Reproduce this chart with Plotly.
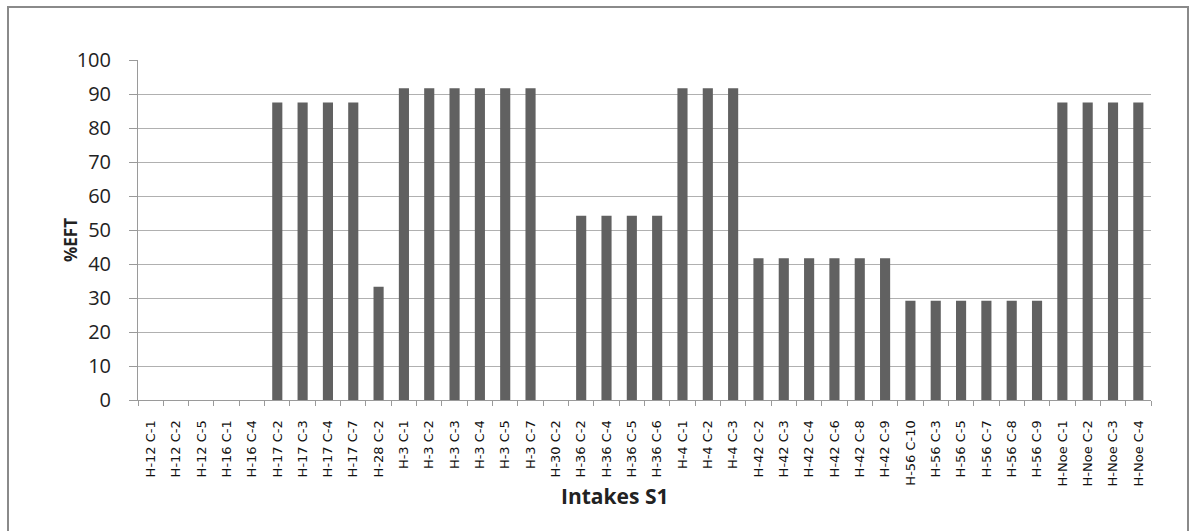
import plotly.graph_objects as go

# Intake identifiers (hydrant / connection) along the x axis
categories = [
    "H-12 C-1", "H-12 C-2", "H-12 C-5", "H-16 C-1", "H-16 C-4",
    "H-17 C-2", "H-17 C-3", "H-17 C-4", "H-17 C-7", "H-28 C-2",
    "H-3 C-1", "H-3 C-2", "H-3 C-3", "H-3 C-4", "H-3 C-5", "H-3 C-7",
    "H-30 C-2", "H-36 C-2", "H-36 C-4", "H-36 C-5", "H-36 C-6",
    "H-4 C-1", "H-4 C-2", "H-4 C-3",
    "H-42 C-2", "H-42 C-3", "H-42 C-4", "H-42 C-6", "H-42 C-8", "H-42 C-9",
    "H-56 C-10", "H-56 C-3", "H-56 C-5", "H-56 C-7", "H-56 C-8", "H-56 C-9",
    "H-Noe C-1", "H-Noe C-2", "H-Noe C-3", "H-Noe C-4",
]

# %EFT per intake
eft_values = [
    0, 0, 0, 0, 0,
    87.5, 87.5, 87.5, 87.5, 33.33,
    91.67, 91.67, 91.67, 91.67, 91.67, 91.67,
    0, 54.17, 54.17, 54.17, 54.17,
    91.67, 91.67, 91.67,
    41.67, 41.67, 41.67, 41.67, 41.67, 41.67,
    29.17, 29.17, 29.17, 29.17, 29.17, 29.17,
    87.5, 87.5, 87.5, 87.5,
]

y_ticks = list(range(0, 101, 10))

W, H = 1197, 531
ml, mr, mt, mb = 138, 46, 60, 131
pw, ph = W - ml - mr, H - mt - mb

fig = go.Figure(
    go.Bar(
        x=categories,
        y=eft_values,
        marker=dict(color="#616161", line=dict(width=0)),
    )
)

fig.update_layout(
    width=W,
    height=H,
    margin=dict(l=ml, r=mr, t=mt, b=mb),
    paper_bgcolor="white",
    plot_bgcolor="white",
    bargap=0.6,
    showlegend=False,
    font=dict(family="'Open Sans', sans-serif", color="#222"),
)

fig.update_xaxes(
    type="category",
    tickangle=-90,
    tickfont=dict(family="'DejaVu Sans', Verdana, sans-serif", size=13, color="#111"),
    ticklabelstandoff=14,
    showgrid=False,
    showline=True,
    linecolor="#9a9a9a",
    linewidth=1,
    ticks="outside",
    tickson="boundaries",
    ticklen=5,
    tickcolor="#9a9a9a",
)

fig.update_yaxes(
    range=[0, 100],
    tickvals=y_ticks,
    tickfont=dict(family="'Open Sans', sans-serif", size=20, color="#222"),
    ticklabelstandoff=14,
    showgrid=True,
    gridcolor="#b0b0b0",
    gridwidth=1,
    showline=True,
    linecolor="#9a9a9a",
    linewidth=1,
    ticks="outside",
    ticklen=8,
    tickcolor="#9a9a9a",
    zeroline=False,
)

# Axis titles
fig.add_annotation(
    text="<b>Intakes S1</b>",
    xref="paper", yref="paper",
    x=(614 - ml) / pw, y=(H - mb - 496) / ph,
    xanchor="center", yanchor="middle",
    showarrow=False,
    font=dict(family="'Open Sans', sans-serif", size=21, color="#222"),
)
fig.add_annotation(
    text="<b>%EFT</b>",
    xref="paper", yref="paper",
    x=(70 - ml) / pw, y=(H - mb - 240) / ph,
    xanchor="center", yanchor="middle",
    textangle=-90,
    showarrow=False,
    font=dict(family="'Open Sans', sans-serif", size=17, color="#222"),
)

# Chart-area frame around the whole figure
fig.add_shape(
    type="rect",
    xref="paper", yref="paper",
    x0=(8 - ml) / pw, x1=(1188 - ml) / pw,
    y0=(H - mb - 540) / ph, y1=(H - mb - 7) / ph,
    line=dict(color="#8a8a8a", width=2),
    fillcolor="rgba(0,0,0,0)",
    layer="below",
)

fig.write_html("out.html")
